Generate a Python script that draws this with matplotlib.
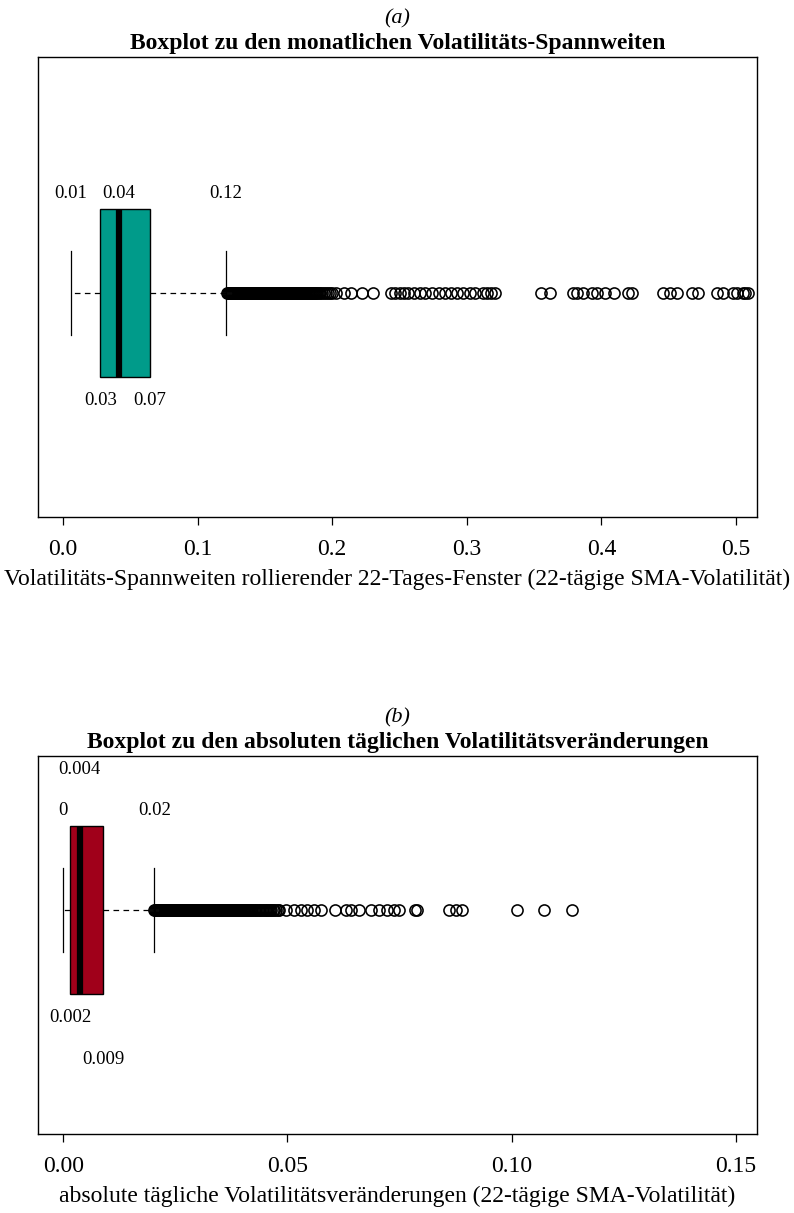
import matplotlib
matplotlib.use("Agg")
import matplotlib.pyplot as plt
import numpy as np

plt.rcParams["font.family"] = ["Liberation Serif", "DejaVu Serif"]

# ---- panel (a): monthly volatility ranges ----
a_stats = dict(whislo=0.0057, q1=0.0276, med=0.0412, q3=0.0646, whishi=0.1212)
a_fliers = [
    0.1220, 0.1227, 0.1234, 0.1241, 0.1248, 0.1255, 0.1262, 0.1269, 0.1276, 0.1283,
    0.1290, 0.1297, 0.1304, 0.1311, 0.1318, 0.1325, 0.1332, 0.1339, 0.1346, 0.1353,
    0.1360, 0.1367, 0.1374, 0.1381, 0.1388, 0.1395, 0.1402, 0.1409, 0.1416, 0.1423,
    0.1430, 0.1437, 0.1444, 0.1451, 0.1458, 0.1465, 0.1472, 0.1479, 0.1486, 0.1493,
    0.1500, 0.1507, 0.1514, 0.1521, 0.1528, 0.1535, 0.1542, 0.1549, 0.1556, 0.1563,
    0.1570, 0.1577, 0.1584, 0.1591, 0.1598, 0.1605, 0.1612, 0.1619, 0.1626, 0.1633,
    0.1640, 0.1647, 0.1654, 0.1661, 0.1668, 0.1675, 0.1682, 0.1689, 0.1696, 0.1703,
    0.1710, 0.1717, 0.1724, 0.1731, 0.1738, 0.1745, 0.1752, 0.1759, 0.1766, 0.1773,
    0.1780, 0.1787, 0.1794, 0.1801, 0.1808, 0.1815, 0.1822, 0.1829, 0.1836, 0.1843,
    0.1850, 0.1858, 0.1866, 0.1874, 0.1882, 0.1890, 0.1900, 0.1912, 0.1925, 0.1940,
    0.1955, 0.1970, 0.1985, 0.2000, 0.203, 0.209, 0.214, 0.222, 0.230, 0.244,
    0.247, 0.250, 0.253, 0.256, 0.261, 0.265, 0.269, 0.274, 0.279, 0.284,
    0.288, 0.293, 0.297, 0.302, 0.306, 0.312, 0.315, 0.318, 0.321, 0.355,
    0.362, 0.379, 0.382, 0.386, 0.393, 0.397, 0.403, 0.409, 0.420, 0.423,
    0.446, 0.451, 0.456, 0.467, 0.472, 0.486, 0.490, 0.498, 0.501, 0.505,
    0.507, 0.509,
]
a_labels_top = ["0.01", "0.04", "0.12"]
a_labels_top_x = [0.0057, 0.0412, 0.1212]
a_labels_bot = ["0.03", "0.07"]
a_labels_bot_x = [0.0276, 0.0646]
a_ticks = [0.0, 0.1, 0.2, 0.3, 0.4, 0.5]
a_ticklabels = ["0.0", "0.1", "0.2", "0.3", "0.4", "0.5"]

# ---- panel (b): absolute daily volatility changes ----
b_stats = dict(whislo=0.0, q1=0.0016, med=0.0037, q3=0.0089, whishi=0.0203)
b_fliers = [
    0.0203, 0.0205, 0.0207, 0.0209, 0.0211, 0.0213, 0.0215, 0.0217, 0.0219, 0.0221,
    0.0223, 0.0225, 0.0227, 0.0229, 0.0231, 0.0233, 0.0235, 0.0237, 0.0239, 0.0241,
    0.0243, 0.0245, 0.0247, 0.0249, 0.0251, 0.0253, 0.0255, 0.0257, 0.0259, 0.0261,
    0.0263, 0.0265, 0.0267, 0.0269, 0.0271, 0.0273, 0.0275, 0.0277, 0.0279, 0.0281,
    0.0283, 0.0285, 0.0287, 0.0289, 0.0291, 0.0293, 0.0295, 0.0297, 0.0299, 0.0301,
    0.0303, 0.0305, 0.0307, 0.0309, 0.0311, 0.0313, 0.0315, 0.0317, 0.0319, 0.0321,
    0.0323, 0.0325, 0.0327, 0.0329, 0.0331, 0.0333, 0.0335, 0.0337, 0.0339, 0.0341,
    0.0343, 0.0345, 0.0347, 0.0349, 0.0351, 0.0353, 0.0355, 0.0357, 0.0359, 0.0361,
    0.0363, 0.0365, 0.0367, 0.0369, 0.0371, 0.0373, 0.0375, 0.0377, 0.0379, 0.0381,
    0.0383, 0.0385, 0.0387, 0.0389, 0.0391, 0.0393, 0.0395, 0.0397, 0.0399, 0.0401,
    0.0403, 0.0405, 0.0407, 0.0409, 0.0411, 0.0413, 0.0415, 0.0417, 0.0419, 0.0422,
    0.0425, 0.0428, 0.0431, 0.0434, 0.0437, 0.0440, 0.0443, 0.0446, 0.0449, 0.0452,
    0.0455, 0.0458, 0.0461, 0.0464, 0.0467, 0.0470, 0.0474, 0.0478, 0.0482, 0.0496,
    0.0514, 0.0530, 0.0543, 0.0559, 0.0574, 0.0606, 0.0630, 0.0641, 0.0659, 0.0686,
    0.0704, 0.0722, 0.0738, 0.0749, 0.0785, 0.0790, 0.0860, 0.0875, 0.0890, 0.1013,
    0.1073, 0.1135,
]
b_labels_top = ["0.004", "0", "0.02"]
b_labels_top_x = [0.0037, 0.0, 0.0203]
b_labels_bot = ["0.002", "0.009"]
b_labels_bot_x = [0.0016, 0.0089]
b_ticks = [0.00, 0.05, 0.10, 0.15]
b_ticklabels = ["0.00", "0.05", "0.10", "0.15"]


def draw_panel(ax, stats, fliers, color, pos, width, xlim, ticks, ticklabels, xlabel):
    st = dict(stats)
    st["fliers"] = fliers
    ax.bxp([st], positions=[pos], widths=[width], vert=False, patch_artist=True,
           showfliers=True,
           boxprops=dict(facecolor=color, edgecolor="black", linewidth=1.0),
           medianprops=dict(color="black", linewidth=4.5, solid_capstyle="butt"),
           whiskerprops=dict(color="black", linewidth=0.9, linestyle=(0, (4.5, 3.5))),
           capprops=dict(color="black", linewidth=0.9),
           flierprops=dict(marker="o", markerfacecolor="none", markeredgecolor="black",
                           markersize=8, markeredgewidth=1.15))
    ax.set_xlim(*xlim)
    ax.set_ylim(0, 1)
    ax.set_yticks([])
    ax.set_xticks(ticks)
    ax.set_xticklabels(ticklabels, fontsize=17)
    ax.tick_params(axis="x", length=6, width=0.9, pad=10)
    for sp in ax.spines.values():
        sp.set_linewidth(1.0)
    ax.set_xlabel(xlabel, fontsize=17, labelpad=6)


fig = plt.figure(figsize=(7.94, 12.13), dpi=100)

ax1 = fig.add_axes([0.0479, 0.5738, 0.9055, 0.3792])
draw_panel(ax1, a_stats, a_fliers, "#009B8A", 0.487, 0.366, (-0.0186, 0.5156),
           a_ticks, a_ticklabels,
           "Volatilitäts-Spannweiten rollierender 22-Tages-Fenster (22-tägige SMA-Volatilität)")
for t, x in zip(a_labels_top, a_labels_top_x):
    ax1.text(x, 0.704, t, ha="center", va="center", fontsize=13.5)
for t, x in zip(a_labels_bot, a_labels_bot_x):
    ax1.text(x, 0.254, t, ha="center", va="center", fontsize=13.5)

ax2 = fig.add_axes([0.0479, 0.0651, 0.9055, 0.3117])
draw_panel(ax2, b_stats, b_fliers, "#A0001A", 0.592, 0.443, (-0.0056, 0.1547),
           b_ticks, b_ticklabels,
           "absolute tägliche Volatilitätsveränderungen (22-tägige SMA-Volatilität)")
b_label_y_top = [0.963, 0.857, 0.857]
b_label_y_bot = [0.307, 0.196]
for t, x, y in zip(b_labels_top, b_labels_top_x, b_label_y_top):
    ax2.text(x, y, t, ha="center", va="center", fontsize=13.5)
for t, x, y in zip(b_labels_bot, b_labels_bot_x, b_label_y_bot):
    ax2.text(x, y, t, ha="center", va="center", fontsize=13.5)

fig.text(0.5006, 0.9845, "(a)", ha="center", va="center", fontsize=16, style="italic")
fig.text(0.5006, 0.9638, "Boxplot zu den monatlichen Volatilitäts-Spannweiten",
         ha="center", va="center", fontsize=17, weight="bold")
fig.text(0.5006, 0.4085, "(b)", ha="center", va="center", fontsize=16, style="italic")
fig.text(0.5006, 0.3876, "Boxplot zu den absoluten täglichen Volatilitätsveränderungen",
         ha="center", va="center", fontsize=17, weight="bold")

fig.savefig("out.png", dpi=100)
